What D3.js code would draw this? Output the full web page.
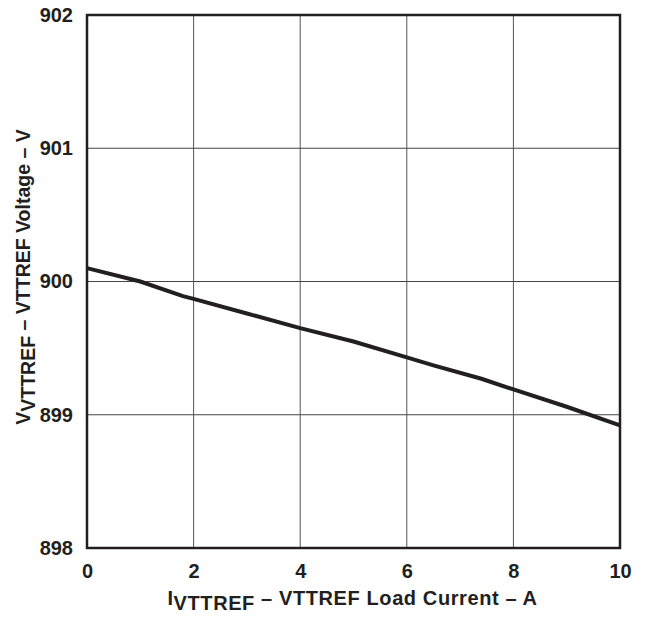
<!DOCTYPE html>
<html>
<head>
<meta charset="utf-8">
<script src="https://cdn.jsdelivr.net/npm/d3@7"></script>
<style>
  body { margin: 0; background: #fff; }
  text { font-family: "Liberation Sans", Arial, sans-serif; font-weight: bold; fill: #231f20; }
</style>
</head>
<body>
<script>
// load current (A) and VTTREF voltage as on the chart
var current = [0, 1, 1.8, 2, 3, 4, 5, 6, 6.5, 7.4, 8, 9, 10];
var voltage = [900.10, 900.00, 899.89, 899.87, 899.76, 899.65, 899.55, 899.43, 899.37, 899.27, 899.19, 899.06, 898.92];
var xTicks = [0, 2, 4, 6, 8, 10];
var yTicks = [898, 899, 900, 901, 902];

var margin = {top: 15, right: 26, bottom: 69, left: 87},
    width = 646 - margin.left - margin.right,
    height = 617 - margin.top - margin.bottom;

var x = d3.scaleLinear().domain([0, 10]).range([0, width]);
var y = d3.scaleLinear().domain([898, 902]).range([height, 0]);

var svg = d3.select("body").append("svg")
    .attr("width", 646)
    .attr("height", 617)
  .append("g")
    .attr("transform", "translate(" + margin.left + "," + margin.top + ")");

// grid
svg.selectAll(".vgrid").data(xTicks.slice(1, -1)).enter().append("line")
    .attr("x1", function(d) { return x(d); }).attr("x2", function(d) { return x(d); })
    .attr("y1", 0).attr("y2", height)
    .attr("stroke", "#555").attr("stroke-width", 1);
svg.selectAll(".hgrid").data(yTicks.slice(1, -1)).enter().append("line")
    .attr("x1", 0).attr("x2", width)
    .attr("y1", function(d) { return y(d); }).attr("y2", function(d) { return y(d); })
    .attr("stroke", "#444").attr("stroke-width", 1);

// axes (labels only)
var xAxis = d3.axisBottom(x).tickValues(xTicks).tickSize(0).tickPadding(16).tickFormat(d3.format("d"));
var yAxis = d3.axisLeft(y).tickValues(yTicks).tickSize(0).tickPadding(14).tickFormat(d3.format("d"));

svg.append("g").attr("transform", "translate(0," + height + ")").call(xAxis)
    .call(function(g) { g.select(".domain").remove(); })
    .selectAll("text").style("font-size", "20px").attr("fill", "#231f20");
svg.append("g").call(yAxis)
    .call(function(g) { g.select(".domain").remove(); })
    .selectAll("text").style("font-size", "20px").attr("fill", "#231f20");

// frame
svg.append("rect")
    .attr("x", 0).attr("y", 0).attr("width", width).attr("height", height)
    .attr("fill", "none").attr("stroke", "#231f20").attr("stroke-width", 2.5);

// curve
var line = d3.line()
    .x(function(d, i) { return x(current[i]); })
    .y(function(d) { return y(d); });
svg.append("path").datum(voltage)
    .attr("d", line)
    .attr("fill", "none").attr("stroke", "#231f20").attr("stroke-width", 4);

// x label
var xl = svg.append("text")
    .attr("x", width / 2 - 1).attr("y", height + 57)
    .attr("text-anchor", "middle")
    .style("font-size", "20px")
    .style("letter-spacing", "0.6px");
xl.append("tspan").text("I");
xl.append("tspan").attr("dy", 5).text("VTTREF");
xl.append("tspan").attr("dy", -5).text(" \u2013 VTTREF Load Current \u2013 A");

// y label
var yl = svg.append("text")
    .attr("transform", "rotate(-90)")
    .attr("x", -262).attr("y", -57)
    .attr("text-anchor", "middle")
    .style("font-size", "19.5px");
yl.append("tspan").text("V");
yl.append("tspan").attr("dy", 5).text("VTTREF");
yl.append("tspan").attr("dy", -5).text(" \u2013 VTTREF Voltage \u2013 V");
</script>
</body>
</html>
